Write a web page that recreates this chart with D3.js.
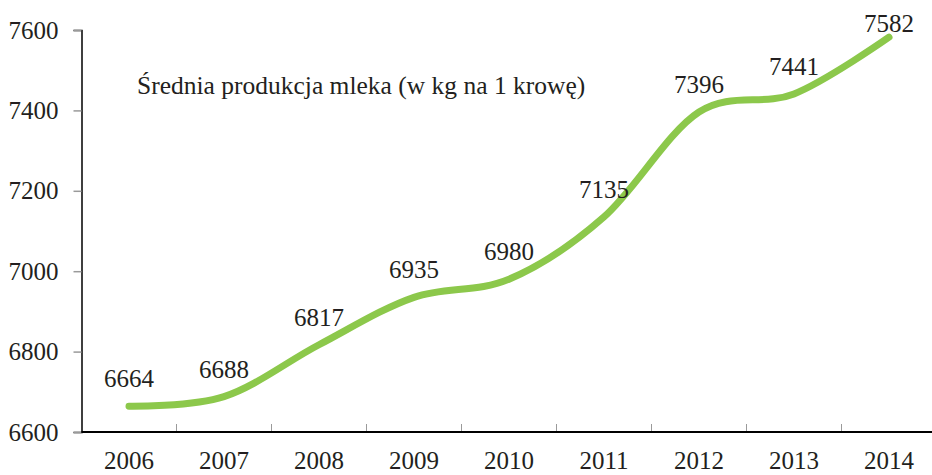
<!DOCTYPE html>
<html>
<head>
<meta charset="utf-8">
<script src="https://cdn.jsdelivr.net/npm/d3@7"></script>
<style>
  html, body { margin: 0; padding: 0; background: #fff; overflow: hidden; }
  svg text { font-family: "Liberation Serif", "Times New Roman", serif; fill: #231f20; }
</style>
</head>
<body>
<div id="chart"></div>
<script>
// dane
const lata = ["2006", "2007", "2008", "2009", "2010", "2011", "2012", "2013", "2014"];
const produkcja = [6664, 6688, 6817, 6935, 6980, 7135, 7396, 7441, 7582];
const yTicks = [6600, 6800, 7000, 7200, 7400, 7600];
const tytul = "Średnia produkcja mleka (w kg na 1 krowę)";

const width = 932, height = 475;
const mLeft = 81.5, mRight = 936.5, mTop = 30, mBottom = 432;
const czcionka = "'Liberation Serif', 'Times New Roman', serif";

const svg = d3.select("#chart").append("svg")
    .attr("width", width)
    .attr("height", height);

const x = d3.scaleBand()
    .domain(lata)
    .range([mLeft, mRight])
    .padding(0);

const y = d3.scaleLinear()
    .domain([6600, 7600])
    .range([mBottom, mTop]);

// os Y
const yAxis = svg.append("g")
    .attr("transform", "translate(" + mLeft + ",0)")
    .call(d3.axisLeft(y).tickValues(yTicks).tickFormat(d3.format("d")).tickSize(8).tickPadding(15));
yAxis.attr("font-family", czcionka);
yAxis.select(".domain").attr("stroke", "#000").attr("stroke-width", 1.5);
yAxis.selectAll(".tick line").attr("stroke", "#9a9a9a").attr("stroke-width", 1.5);
yAxis.selectAll(".tick text").style("font-size", "25px").attr("fill", "#231f20");

// os X - podzialki miedzy kategoriami
const granice = lata.slice(1).map(d => x(d));
svg.append("g").selectAll("line")
    .data(granice)
    .enter().append("line")
    .attr("x1", d => d).attr("x2", d => d)
    .attr("y1", mBottom).attr("y2", mBottom - 8)
    .attr("stroke", "#9a9a9a").attr("stroke-width", 1);

svg.append("line")
    .attr("x1", mLeft).attr("x2", 932)
    .attr("y1", mBottom).attr("y2", mBottom)
    .attr("stroke", "#000").attr("stroke-width", 1.8);

svg.append("g").selectAll("text")
    .data(lata)
    .enter().append("text")
    .attr("x", d => x(d) + x.bandwidth() / 2)
    .attr("y", 469)
    .attr("text-anchor", "middle")
    .attr("font-family", czcionka)
    .style("font-size", "25px")
    .text(d => d);

// linia
const line = d3.line()
    .x((d, i) => x(lata[i]) + x.bandwidth() / 2)
    .y(d => y(d))
    .curve(d3.curveCardinal.tension(0));

svg.append("path")
    .datum(produkcja)
    .attr("d", line)
    .attr("fill", "none")
    .attr("stroke", "#8cc84b")
    .attr("stroke-width", 7)
    .attr("stroke-linecap", "round");

// etykiety danych
svg.append("g").selectAll("text")
    .data(produkcja)
    .enter().append("text")
    .attr("x", (d, i) => x(lata[i]) + x.bandwidth() / 2)
    .attr("y", d => Math.max(y(d) - 19, 32))
    .attr("text-anchor", "middle")
    .attr("font-family", czcionka)
    .style("font-size", "25px")
    .text(d => d);

// opis serii
svg.append("text")
    .attr("x", 137)
    .attr("y", 94)
    .attr("font-family", czcionka)
    .style("font-size", "25.5px")
    .text(tytul);
</script>
</body>
</html>
